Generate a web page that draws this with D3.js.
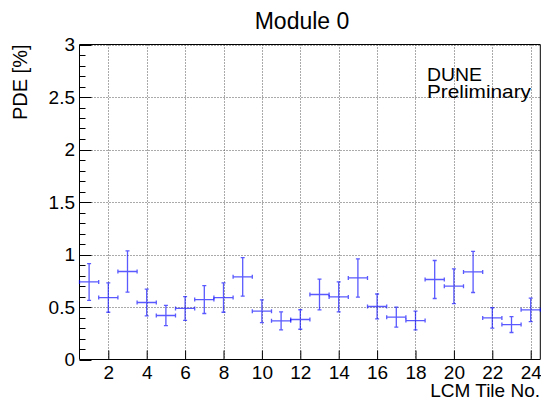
<!DOCTYPE html>
<html>
<head>
<meta charset="utf-8">
<script src="https://cdn.jsdelivr.net/npm/d3@7"></script>
<style>
  body { margin: 0; background: #fff; }
  svg { display: block; font-family: "Liberation Sans", Arial, sans-serif; }
</style>
</head>
<body>
<svg id="chart" width="541" height="400"></svg>
<script>
// LCM tile numbers and measured PDE [%] with statistical errors
const tiles = d3.range(1, 25);
const pde = [0.739, 0.590, 0.838, 0.543, 0.419, 0.486, 0.571, 0.590, 0.787, 0.460, 0.368, 0.381,
             0.619, 0.596, 0.777, 0.505, 0.403, 0.371, 0.762, 0.698, 0.834, 0.396, 0.333, 0.473];
const pdeErr = [0.175, 0.140, 0.197, 0.127, 0.097, 0.113, 0.133, 0.140, 0.184, 0.108, 0.086, 0.093,
                0.146, 0.143, 0.182, 0.119, 0.095, 0.089, 0.181, 0.165, 0.196, 0.097, 0.076, 0.112];
const xTicks = [2, 4, 6, 8, 10, 12, 14, 16, 18, 20, 22, 24];
const yTicks = [0, 0.5, 1, 1.5, 2, 2.5, 3];

const svg = d3.select('#chart');
const frame = { left: 79.5, right: 540.3, top: 44.5, bottom: 359.5 };

const x = d3.scaleLinear().domain([0.5, 24.5]).range([frame.left, frame.right]);
const y = d3.scaleLinear().domain([0, 3]).range([frame.bottom, frame.top]);

const fmt = d => d3.format('')(d);
const font = '"Liberation Sans", Arial, sans-serif';

// Grid (dotted)
const grid = svg.append('g')
  .attr('stroke', '#555')
  .attr('stroke-width', 1)
  .attr('stroke-dasharray', '1,2');
for (const t of xTicks) {
  grid.append('line')
    .attr('x1', Math.round(x(t)) + 0.5).attr('x2', Math.round(x(t)) + 0.5)
    .attr('y1', frame.top).attr('y2', frame.bottom);
}
for (const t of yTicks.slice(1)) {
  grid.append('line')
    .attr('x1', frame.left).attr('x2', frame.right)
    .attr('y1', Math.round(y(t)) + 0.5).attr('y2', Math.round(y(t)) + 0.5);
}

// Frame (top and right)
svg.append('path')
  .attr('d', `M${frame.left},${frame.top}H${frame.right}V${frame.bottom}`)
  .attr('fill', 'none')
  .attr('stroke', '#000')
  .attr('stroke-width', 1);

// X axis, ticks pointing into the frame
const xAxis = svg.append('g')
  .attr('transform', `translate(0,${frame.bottom})`)
  .call(d3.axisBottom(x).tickValues(xTicks).tickSize(-9).tickPadding(6).tickFormat(fmt));
xAxis.select('.domain').attr('d', `M${frame.left},0H${frame.right}`).attr('stroke', '#000');
xAxis.selectAll('.tick line').attr('stroke', '#000');
xAxis.selectAll('.tick text')
  .attr('font-size', 19)
  .attr('font-family', font)
  .attr('fill', '#000');

// Y axis: minor ticks every 0.1, major every 0.5
const yMinor = d3.range(0, 31).map(i => i / 10);
svg.append('g')
  .attr('stroke', '#000')
  .selectAll('line')
  .data(yMinor)
  .join('line')
  .attr('x1', frame.left)
  .attr('x2', (d, i) => frame.left + (i % 5 === 0 ? 12 : 6))
  .attr('y1', d => Math.round(y(d)) + 0.5)
  .attr('y2', d => Math.round(y(d)) + 0.5);

const yAxis = svg.append('g')
  .attr('transform', `translate(${frame.left},0)`)
  .call(d3.axisLeft(y).tickValues(yTicks).tickSize(0).tickPadding(4.5).tickFormat(fmt));
yAxis.select('.domain').attr('d', `M0,${frame.top}V${frame.bottom}`).attr('stroke', '#000');
yAxis.selectAll('.tick text')
  .attr('font-size', 19)
  .attr('font-family', font)
  .attr('fill', '#000');

// Data points with x (bin width) and y error bars, end caps
const pts = svg.append('g')
  .attr('stroke', '#0000ff')
  .attr('stroke-opacity', 0.65)
  .attr('stroke-width', 1.3)
  .attr('fill', 'none');
tiles.forEach((t, i) => {
  const cx = x(t), cy = y(pde[i]);
  const x0 = x(t - 0.5), x1 = x(t + 0.5);
  const y0 = y(pde[i] - pdeErr[i]), y1 = y(pde[i] + pdeErr[i]);
  const c = 2;
  pts.append('path').attr('d',
    `M${x0},${cy}H${x1}` +
    `M${x0},${cy - c}V${cy + c}M${x1},${cy - c}V${cy + c}` +
    `M${cx},${y0}V${y1}` +
    `M${cx - c},${y0}H${cx + c}M${cx - c},${y1}H${cx + c}`);
});

// Titles and labels
svg.append('text')
  .attr('x', 302).attr('y', 29)
  .attr('text-anchor', 'middle')
  .attr('font-size', 23)
  .text('Module 0');

svg.append('text')
  .attr('transform', `translate(27,${frame.top}) rotate(-90)`)
  .attr('text-anchor', 'end')
  .attr('font-size', 20)
  .text('PDE [%]');

svg.append('text')
  .attr('x', 540).attr('y', 397)
  .attr('text-anchor', 'end')
  .attr('font-size', 19)
  .text('LCM Tile No.');

// Experiment label, slightly wide lettering as in the original
svg.append('text')
  .attr('x', 427).attr('y', 81)
  .attr('font-size', 18.5)
  .attr('textLength', 55)
  .attr('lengthAdjust', 'spacingAndGlyphs')
  .text('DUNE');
svg.append('text')
  .attr('x', 427).attr('y', 98)
  .attr('font-size', 18.5)
  .attr('textLength', 104)
  .attr('lengthAdjust', 'spacingAndGlyphs')
  .text('Preliminary');
</script>
</body>
</html>
